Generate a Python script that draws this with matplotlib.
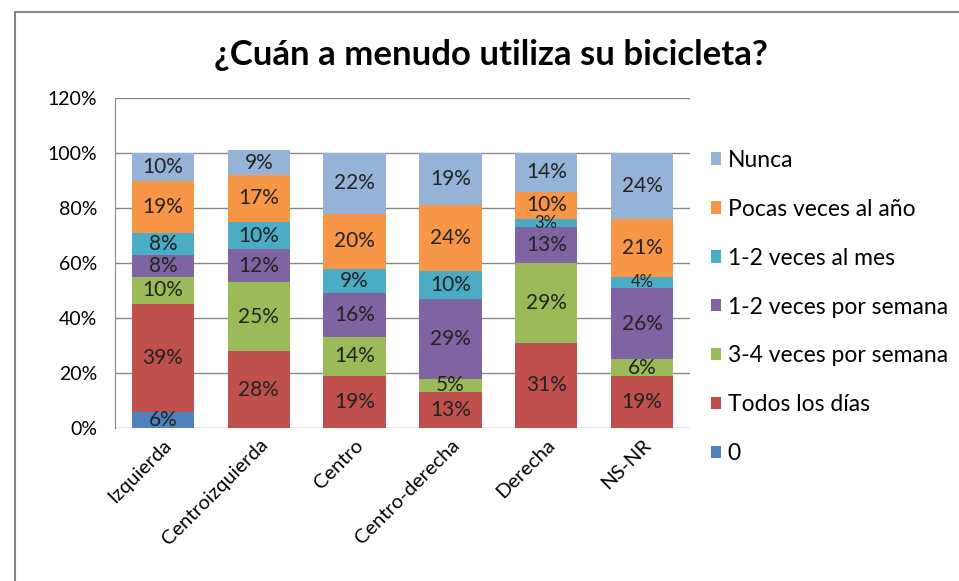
import numpy as np
import matplotlib
matplotlib.use("Agg")
import matplotlib.pyplot as plt
from matplotlib.patches import Rectangle

plt.rcParams['font.family'] = ['Lato', 'DejaVu Sans']

# --- Data -------------------------------------------------------------
categories = ["Izquierda", "Centroizquierda", "Centro", "Centro-derecha", "Derecha", "NS-NR"]
series_names = ["0", "Todos los días", "3-4 veces por semana", "1-2 veces por semana",
                "1-2 veces al mes", "Pocas veces al año", "Nunca"]
cero = [6, 0, 0, 0, 0, 0]
todos = [39, 28, 19, 13, 31, 19]
tres_cuatro = [10, 25, 14, 5, 29, 6]
semana = [8, 12, 16, 29, 13, 26]
mes = [8, 10, 9, 10, 3, 4]
pocas = [19, 17, 20, 24, 10, 21]
nunca = [10, 9, 22, 19, 14, 24]
yticks = [0, 20, 40, 60, 80, 100, 120]

series = [cero, todos, tres_cuatro, semana, mes, pocas, nunca]
colors = ["#4F81BD", "#C0504D", "#9BBB59", "#8064A2", "#4BACC6", "#F79646", "#95B3D7"]

# --- Figure -----------------------------------------------------------
fig = plt.figure(figsize=(9.59, 5.81), dpi=100)
ax = fig.add_axes([115 / 959, 1 - 428 / 581, 575 / 959, 330 / 581])

x = np.arange(len(categories))
bottom = np.zeros(len(categories))
for name, vals, col in zip(series_names, series, colors):
    vals = np.array(vals, dtype=float)
    ax.bar(x, vals, 0.65, bottom=bottom, color=col, label=name, zorder=2)
    for xi, b, v in zip(x, bottom, vals):
        if v > 0:
            # tiny segments get a smaller label so they don't pile up
            fs = 15 if v >= 5 else 12
            ax.text(xi, b + v / 2, f"{int(v)}%", ha="center", va="center",
                    fontsize=fs, color="#222222", zorder=3)
    bottom += vals

ax.set_xlim(-0.5, len(categories) - 0.5)
ax.set_ylim(0, 120)
ax.set_yticks(yticks)
ax.set_yticklabels([f"{t}%" for t in yticks], fontsize=14)
ax.set_xticks(x)
ax.set_xticklabels(categories, rotation=45, ha="right", rotation_mode="anchor", fontsize=14.5)
ax.tick_params(length=0, pad=13)
ax.tick_params(axis="x", pad=6)
ax.yaxis.grid(True, color="#888888", linewidth=1, zorder=0)
for s in ["top", "right", "bottom"]:
    ax.spines[s].set_visible(False)
ax.spines["left"].set_color("#888888")

fig.suptitle("¿Cuán a menudo utiliza su bicicleta?", x=0.512, y=1 - 55 / 581,
             va="center", fontsize=25, fontweight="bold")

handles, labels = ax.get_legend_handles_labels()
fig.legend(handles[::-1], labels[::-1], loc="upper left", bbox_to_anchor=(690 / 959, 1 - 129 / 581),
           frameon=False, fontsize=16.5, handlelength=0.45, handleheight=0.45,
           handletextpad=0.3, labelspacing=1.22)

# outer chart border
fig.patches.append(Rectangle((15 / 959, -0.1), 2, 1.1 - 12 / 581, transform=fig.transFigure,
                             fill=False, edgecolor="#888888", linewidth=1.5))

fig.savefig("out.png", dpi=100)
